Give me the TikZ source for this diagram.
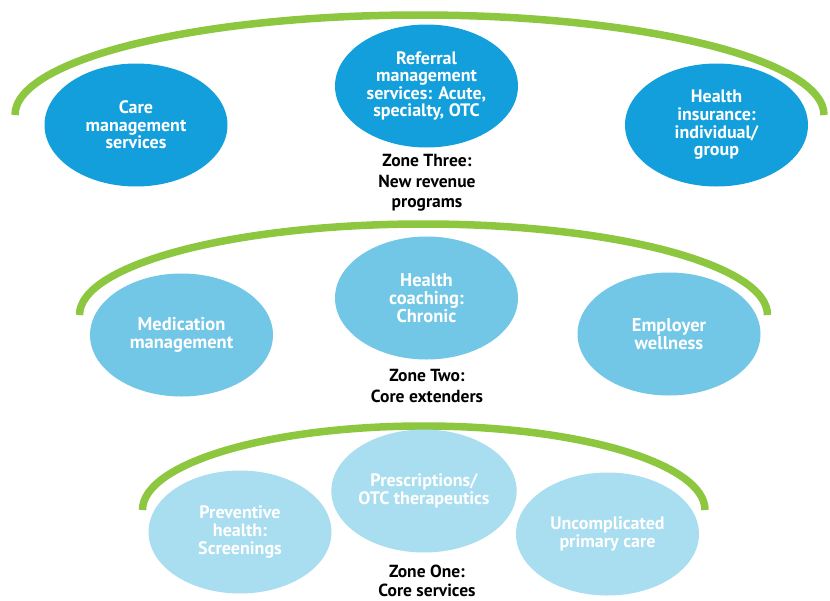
\documentclass[tikz,border=0pt]{standalone}
\usepackage{fontspec}
\setmainfont{PT Sans}
\usetikzlibrary{shapes.geometric}

\definecolor{zonegreen}{HTML}{8DC63F}
\definecolor{bluedark}{HTML}{139FDB}
\definecolor{bluemid}{HTML}{72C6E6}
\definecolor{bluelight}{HTML}{A9DDF0}

\tikzset{
  band/.style={draw=zonegreen, line width=7.5pt, line cap=butt},
  service/.style={ellipse, inner sep=0pt, minimum width=183pt, minimum height=123pt,
    text=white, align=center, font=\fontsize{18}{17.6}\selectfont\bfseries},
  tier3/.style={service, fill=bluedark},
  tier2/.style={service, fill=bluemid, font=\fontsize{18.5}{18}\selectfont\bfseries},
  tier1/.style={service, fill=bluelight},
  zonelabel/.style={align=center, text=black, inner sep=0pt,
    font=\fontsize{17.5}{20.5}\selectfont\bfseries},
}

\begin{document}
\begin{tikzpicture}[x=1pt, y=-1pt]
\useasboundingbox (0,0) rectangle (830,600);

% ---------- Zone Three ----------
\coordinate (arcthree) at (15,115);
\draw[band] (arcthree) arc[start angle=180, end angle=360, x radius=404.5, y radius=100];

\node[tier3] (care) at (136,125) {Care\\management\\services};
\node[tier3] (referral) at (426.5,86) {Referral\\management\\services: Acute,\\specialty, OTC};
\node[tier3] (insurance) at (716.5,125) {Health\\insurance:\\individual/\\group};
\node[zonelabel] (zonethree) at (427,183) {Zone Three:\\New revenue\\programs};

% ---------- Zone Two ----------
\coordinate (arctwo) at (79.5,315);
\draw[band] (arctwo) arc[start angle=180, end angle=360, x radius=344, y radius=91];

\node[tier2] (medication) at (181.5,335) {Medication\\management};
\node[tier2] (coaching) at (426.5,298) {Health\\coaching:\\Chronic};
\node[tier2] (employer) at (669,334) {Employer\\wellness};
\node[zonelabel, font=\fontsize{17.5}{21.5}\selectfont\bfseries] (zonetwo) at (427,386) {Zone Two:\\Core extenders};

% ---------- Zone One ----------
\coordinate (arcone) at (142.5,510);
\draw[band] (arcone) arc[start angle=180, end angle=360, x radius=281.25, y radius=84];

\node[tier1] (preventive) at (240,532) {Preventive\\health:\\Screenings};
\node[tier1] (prescriptions) at (424,491) {Prescriptions/\\OTC therapeutics};
\node[tier1] (primary) at (607.5,534) {Uncomplicated\\primary care};
\node[zonelabel, font=\fontsize{17.5}{19}\selectfont\bfseries] (zoneone) at (427,581) {Zone One:\\Core services};
\end{tikzpicture}
\end{document}
